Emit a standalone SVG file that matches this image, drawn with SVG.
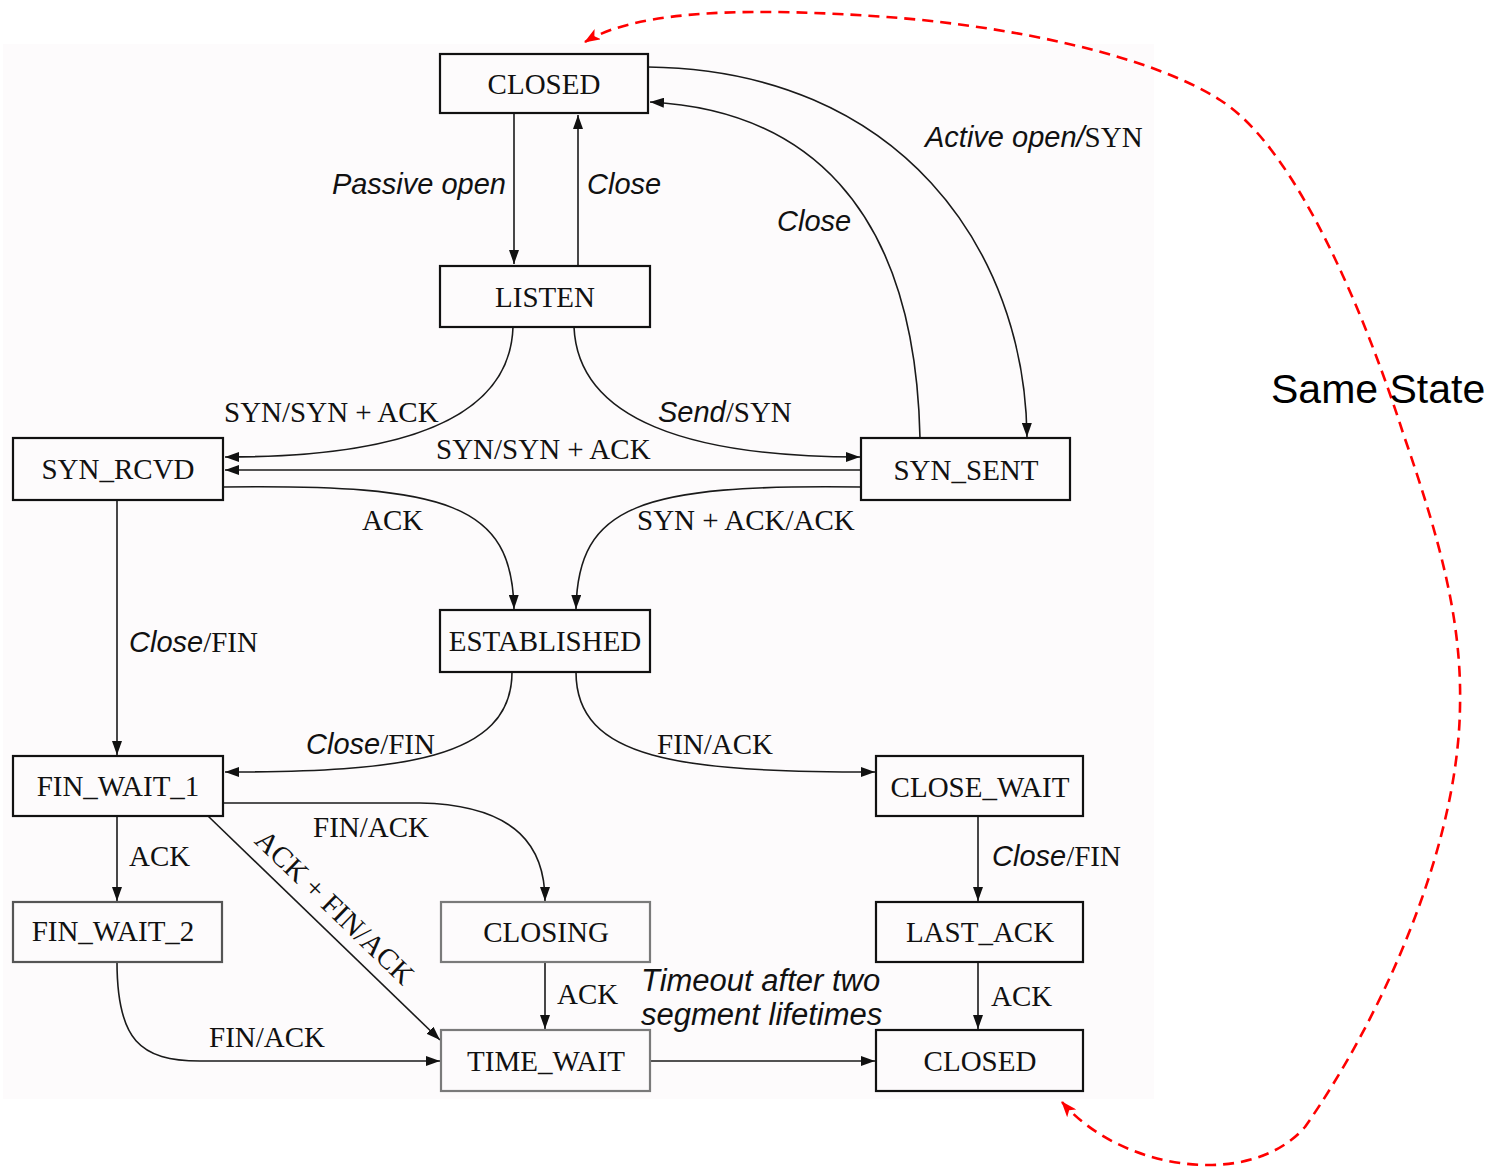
<svg xmlns="http://www.w3.org/2000/svg" width="1499" height="1170" viewBox="0 0 1499 1170">
<defs>
<marker id="ah" viewBox="0 0 14 10" refX="14" refY="5" markerWidth="14" markerHeight="10" markerUnits="userSpaceOnUse" orient="auto">
<path d="M0,0 L14,5 L0,10 z" fill="#111"/>
</marker>
<marker id="rh" viewBox="0 0 16 12" refX="15" refY="6" markerWidth="16" markerHeight="12" markerUnits="userSpaceOnUse" orient="auto-start-reverse">
<path d="M0,0 L16,6 L0,12 L4,6 z" fill="#ff0000"/>
</marker>
<style>
.box{fill:#fdfbfc;stroke:#111;stroke-width:2.2}
.gbox{fill:#fdfbfc;stroke:#555;stroke-width:2.2}
.lbox{fill:#fdfbfc;stroke:#7a7a7a;stroke-width:2.2}
.nt{font-family:"Liberation Serif",serif;font-size:29px;fill:#111;text-anchor:middle}
.sr{font-family:"Liberation Serif",serif;font-size:29px;fill:#111}
.it{font-family:"Liberation Sans",Arial,sans-serif;font-style:italic;font-size:29px;fill:#111}
.it31{font-size:31px}
.ln{fill:none;stroke:#1a1a1a;stroke-width:1.6;marker-end:url(#ah)}
.red{fill:none;stroke:#ff0000;stroke-width:2.6;stroke-dasharray:11 7;marker-start:url(#rh);marker-end:url(#rh)}
</style>
</defs>
<rect x="3" y="44" width="1151" height="1055" fill="#fdfbfc"/>
<g id="connectors">
<path class="ln" d="M514,113 L514,264"/>
<path class="ln" d="M578,266 L578,115"/>
<path class="ln" d="M648,67 C900,70 1025,250 1027,437"/>
<path class="ln" d="M920,438 C915,200 800,110 650,102"/>
<path class="ln" d="M513,327 C510,420 400,457 225,457"/>
<path class="ln" d="M574,327 C578,420 690,457 860,457"/>
<path class="ln" d="M861,470 L225,470"/>
<path class="ln" d="M223,487 C450,484 512,505 514,609"/>
<path class="ln" d="M861,487 C640,484 578,505 576,609"/>
<path class="ln" d="M117,500 L117,755"/>
<path class="ln" d="M512,672 C512,760 400,772 225,772"/>
<path class="ln" d="M576,672 C576,760 680,772 875,772"/>
<path class="ln" d="M117,816 L117,901"/>
<path class="ln" d="M223,803 L420,803 C520,805 545,850 545,901"/>
<path class="ln" d="M208,816 L440,1040"/>
<path class="ln" d="M117,962 C117,1040 140,1061 200,1061 L440,1061"/>
<path class="ln" d="M545,962 L545,1029"/>
<path class="ln" d="M650,1061 L875,1061"/>
<path class="ln" d="M978,816 L978,901"/>
<path class="ln" d="M978,962 L978,1029"/>
<path class="red" d="M585,42 C640,8 760,8 887,17 C1010,26 1150,55 1220,100 C1300,150 1370,330 1403,433 C1440,540 1462,620 1460,707 C1458,850 1380,1020 1305,1127 C1250,1190 1120,1170 1062,1102"/>
</g>
<g id="labels">
<text class="it" x="506" y="194" text-anchor="end">Passive open</text>
<text class="it" x="587" y="194">Close</text>
<text x="925" y="147"><tspan class="it">Active open/</tspan><tspan class="sr">SYN</tspan></text>
<text class="it" x="777" y="231">Close</text>
<text class="sr" x="224" y="422">SYN/SYN + ACK</text>
<text x="658" y="422"><tspan class="it">Send</tspan><tspan class="sr">/SYN</tspan></text>
<text class="sr" x="436" y="459">SYN/SYN + ACK</text>
<text class="sr" x="362" y="530">ACK</text>
<text class="sr" x="637" y="530">SYN + ACK/ACK</text>
<text x="129" y="652"><tspan class="it">Close</tspan><tspan class="sr">/FIN</tspan></text>
<text x="306" y="754"><tspan class="it">Close</tspan><tspan class="sr">/FIN</tspan></text>
<text class="sr" x="657" y="754">FIN/ACK</text>
<text class="sr" x="313" y="837">FIN/ACK</text>
<text class="sr" x="129" y="866">ACK</text>
<text class="sr" transform="translate(335,907) rotate(44)" x="0" y="10" text-anchor="middle">ACK + FIN/ACK</text>
<text x="992" y="866"><tspan class="it">Close</tspan><tspan class="sr">/FIN</tspan></text>
<text class="sr" x="557" y="1004">ACK</text>
<text class="it it31" x="641" y="991">Timeout after two</text>
<text class="it it31" x="641" y="1025">segment lifetimes</text>
<text class="sr" x="991" y="1006">ACK</text>
<text class="sr" x="209" y="1047">FIN/ACK</text>
<text x="1271" y="403" font-family="'Liberation Sans',Arial,sans-serif" font-size="41" fill="#000">Same State</text>
</g>
<g id="n_closed_top"><rect class="box" x="440" y="54" width="208" height="59"/><text class="nt" x="544" y="94">CLOSED</text></g>
<g id="n_listen"><rect class="box" x="440" y="266" width="210" height="61"/><text class="nt" x="545" y="307">LISTEN</text></g>
<g id="n_syn_rcvd"><rect class="box" x="13" y="438" width="210" height="62"/><text class="nt" x="118" y="479">SYN_RCVD</text></g>
<g id="n_syn_sent"><rect class="box" x="861" y="438" width="209" height="62"/><text class="nt" x="966" y="480">SYN_SENT</text></g>
<g id="n_established"><rect class="box" x="440" y="610" width="210" height="62"/><text class="nt" x="545" y="651">ESTABLISHED</text></g>
<g id="n_fin_wait_1"><rect class="box" x="13" y="756" width="210" height="60"/><text class="nt" x="118" y="796">FIN_WAIT_1</text></g>
<g id="n_close_wait"><rect class="box" x="876" y="756" width="207" height="60"/><text class="nt" x="980" y="797">CLOSE_WAIT</text></g>
<g id="n_fin_wait_2"><rect class="gbox" x="13" y="902" width="209" height="60"/><text class="nt" x="113" y="941">FIN_WAIT_2</text></g>
<g id="n_closing"><rect class="lbox" x="441" y="902" width="209" height="60"/><text class="nt" x="546" y="942">CLOSING</text></g>
<g id="n_last_ack"><rect class="box" x="876" y="902" width="207" height="60"/><text class="nt" x="980" y="942">LAST_ACK</text></g>
<g id="n_time_wait"><rect class="lbox" x="441" y="1030" width="209" height="61"/><text class="nt" x="546" y="1071">TIME_WAIT</text></g>
<g id="n_closed_bottom"><rect class="box" x="876" y="1030" width="207" height="61"/><text class="nt" x="980" y="1071">CLOSED</text></g>
</svg>
